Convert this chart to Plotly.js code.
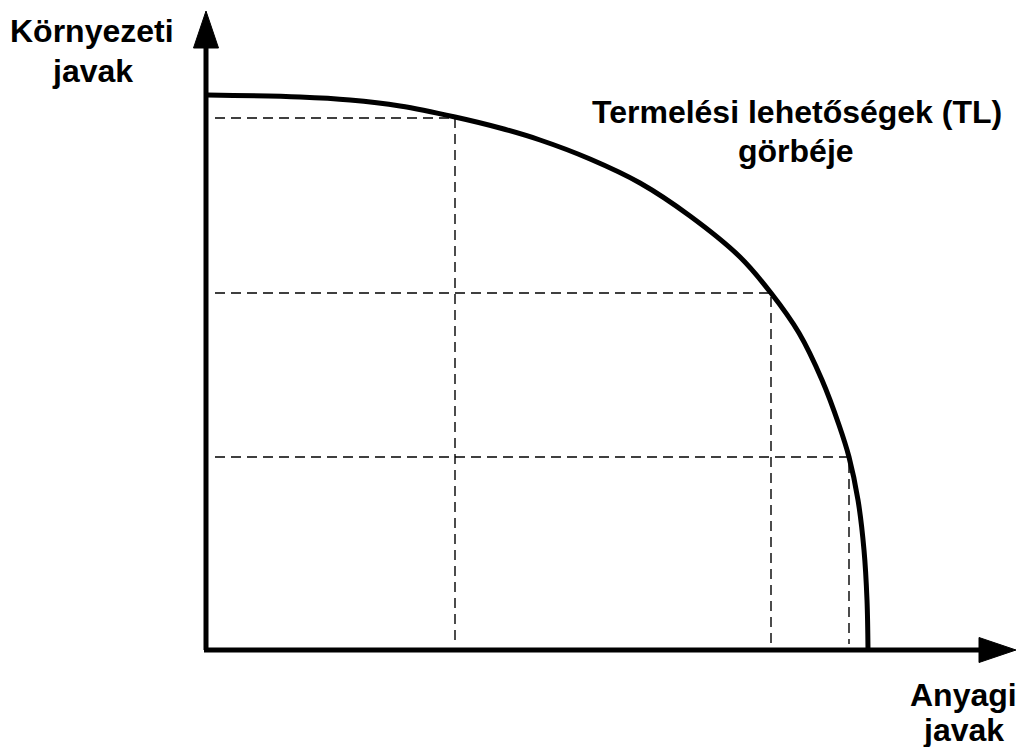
<!DOCTYPE html>
<html>
<head>
<meta charset="utf-8">
<script src="https://cdn.plot.ly/plotly-3.0.1.min.js"></script>
<style>
  html, body { margin: 0; padding: 0; background: #fff; }
  #chart { width: 1019px; height: 747px; }
</style>
</head>
<body>
<div id="chart"></div>
<script>
// Production possibility frontier
const curveX = [1, 94, 144, 194, 249, 294, 334, 384, 434, 484, 534, 565, 593, 616, 633, 643, 652, 658, 661, 662];
const curveY = [555, 553, 550, 544, 533, 522, 510, 491, 467, 434, 393, 357, 317, 270, 225, 193, 150, 100, 50, 0];

// Points on the curve that get dashed guide lines
const pointX = [249, 565, 643];
const pointY = [532, 357, 193];

// Text labels: [text, x, y]
const labels = [
    ["Környezeti", -114, 619],
    ["javak", -114, 579],
    ["Termelési lehetőségek (TL)", 591, 538],
    ["görbéje", 590, 499],
    ["Anyagi", 757, -45],
    ["javak", 757, -80]
];

const axisEndX = 775;
const axisEndY = 605;

const labelFont = { family: "Liberation Sans, Arial, sans-serif", size: 32, color: "#000" };

let traces = [];

// dashed guides
for (let i = 0; i < pointX.length; i++) {
    traces.push({
        x: [9, pointX[i], pointX[i], pointX[i]],
        y: [pointY[i], pointY[i], pointY[i], 6],
        type: "scatter", mode: "lines",
        line: { color: "#000", width: 1.4, dash: "10px,6px" },
        hoverinfo: "skip"
    });
}

// the curve
traces.push({
    x: curveX, y: curveY,
    type: "scatter", mode: "lines",
    line: { color: "#000", width: 5, shape: "spline", smoothing: 1 },
    hoverinfo: "skip"
});

// axes lines
traces.push({
    x: [0, 0], y: [0, axisEndY], type: "scatter", mode: "lines",
    line: { color: "#000", width: 5 }, hoverinfo: "skip"
});
traces.push({
    x: [-2, axisEndX], y: [0, 0], type: "scatter", mode: "lines",
    line: { color: "#000", width: 5 }, hoverinfo: "skip"
});

// arrow heads
let shapes = [
    { type: "path", xref: "x", yref: "y", path: "M -12.5 602 L 0 639 L 12.5 602 Z",
      fillcolor: "#000", line: { color: "#000", width: 1 } },
    { type: "path", xref: "x", yref: "y", path: "M 773 12.5 L 810 0 L 773 -12.5 Z",
      fillcolor: "#000", line: { color: "#000", width: 1 } }
];

let annotations = labels.map(l => ({
    x: l[1], y: l[2], xref: "x", yref: "y", text: "<b>" + l[0] + "</b>",
    showarrow: false, font: labelFont, align: "center"
}));

let layout = {
    width: 1019, height: 747,
    margin: { l: 0, r: 0, t: 0, b: 0 },
    paper_bgcolor: "#fff", plot_bgcolor: "#fff",
    showlegend: false,
    xaxis: { range: [-206, 813], visible: false, fixedrange: true },
    yaxis: { range: [-97, 650], visible: false, fixedrange: true },
    shapes: shapes,
    annotations: annotations
};

Plotly.newPlot("chart", traces, layout, { staticPlot: true });
</script>
</body>
</html>
